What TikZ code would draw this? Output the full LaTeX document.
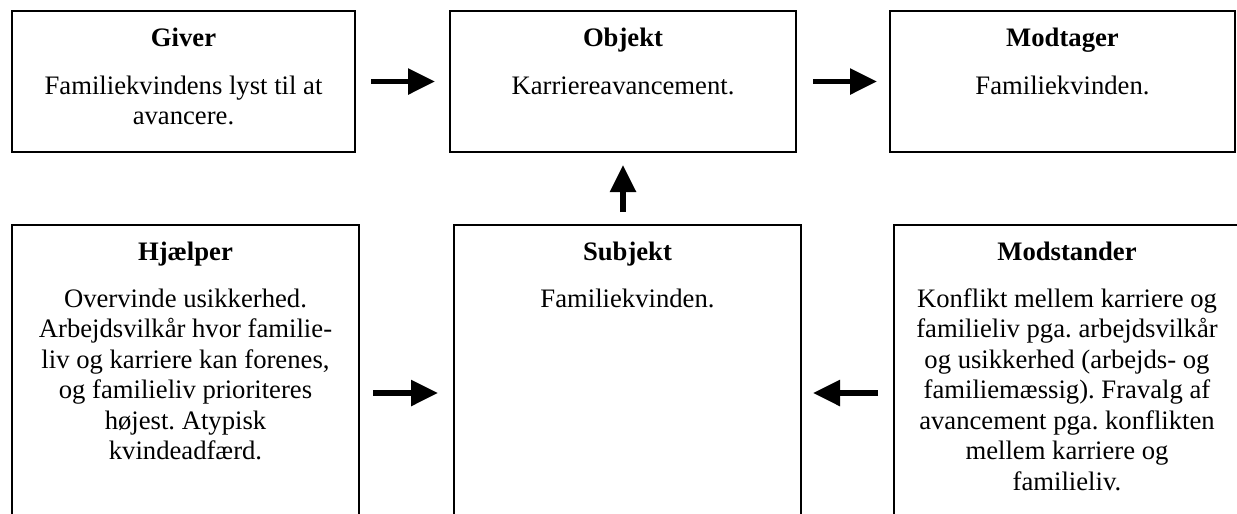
\documentclass[tikz,border=0pt]{standalone}
\usepackage{fontspec}
\setmainfont{Liberation Serif}[Ligatures=CommonOff]
\usetikzlibrary{arrows.meta}
\newcommand\pxu{0.45pt}
\frenchspacing
\begin{document}
\begin{tikzpicture}[x=0.45pt, y=-0.45pt,
  actbox/.style={draw, line width=0.75pt, inner sep=0pt, outer sep=0pt},
  title/.style={anchor=base, inner sep=0pt, font=\fontsize{12}{13.75}\selectfont\bfseries},
  body/.style={anchor=base, inner sep=0pt},
  flow/.style={line width=2.6pt, -{Triangle[length=27*\pxu, width=25*\pxu]}}
]
\useasboundingbox (0,0) rectangle (1237,513);
\clip (0,0) rectangle (1237,513);

% upper row
\node[actbox, minimum width=343*\pxu, minimum height=141*\pxu] (giver) at (183.5,81.5) {};
\node[actbox, minimum width=346*\pxu, minimum height=141*\pxu] (objekt) at (623,81.5) {};
\node[actbox, minimum width=345*\pxu, minimum height=141*\pxu] (modtager) at (1062.5,81.5) {};

% lower row (continues below the page edge)
\node[actbox, minimum width=347*\pxu, minimum height=336*\pxu] (hjaelper) at (185.5,393) {};
\node[actbox, minimum width=347*\pxu, minimum height=336*\pxu] (subjekt) at (627.5,393) {};
\node[actbox, minimum width=346*\pxu, minimum height=336*\pxu] (modstander) at (1067,393) {};

% box texts
\newcommand\bodytext[2]{\parbox[t]{#1}{\fontsize{12}{13.75}\selectfont\centering\hyphenpenalty=10000 #2}}

\node[title] (giver-t) at ([yshift=-35*\pxu]giver.north) {Giver};
\node[body] (giver-b) at ([yshift=-83*\pxu]giver.north) {\bodytext{150pt}{Familiekvindens lyst til at\\avancere.}};

\node[title] (objekt-t) at ([yshift=-35*\pxu]objekt.north) {Objekt};
\node[body] (objekt-b) at ([yshift=-83*\pxu]objekt.north) {\bodytext{150pt}{Karriereavancement.}};

\node[title] (modtager-t) at ([yshift=-35*\pxu]modtager.north) {Modtager};
\node[body] (modtager-b) at ([yshift=-83*\pxu]modtager.north) {\bodytext{150pt}{Familiekvinden.}};

\node[title] (hjaelper-t) at ([yshift=-35*\pxu]hjaelper.north) {Hjælper};
\node[body] (hjaelper-b) at ([yshift=-82*\pxu]hjaelper.north) {\bodytext{150pt}{Overvinde usikkerhed.\\Arbejdsvilkår hvor familie-\\liv og karriere kan forenes,\\og familieliv prioriteres\\højest. Atypisk\\kvindeadfærd.}};

\node[title] (subjekt-t) at ([yshift=-35*\pxu]subjekt.north) {Subjekt};
\node[body] (subjekt-b) at ([yshift=-82*\pxu]subjekt.north) {\bodytext{150pt}{Familiekvinden.}};

\node[title] (modstander-t) at ([yshift=-35*\pxu]modstander.north) {Modstander};
\node[body] (modstander-b) at ([yshift=-82*\pxu]modstander.north) {\bodytext{150pt}{Konflikt mellem karriere og\\familieliv pga. arbejdsvilkår\\og usikkerhed (arbejds- og\\familiemæssig). Fravalg af\\avancement pga. konflikten\\mellem karriere og\\familieliv.}};

% connectors
\draw[flow, shorten <=16*\pxu, shorten >=15*\pxu] (giver.east) -- (objekt.west);
\draw[flow, shorten <=17*\pxu, shorten >=13*\pxu] (objekt.east) -- (modtager.west);
\draw[flow, shorten <=13*\pxu, shorten >=13*\pxu] (objekt.south |- subjekt.north) -- (objekt.south);
\draw[flow, shorten <=14*\pxu, shorten >=16*\pxu] (hjaelper.east) -- (subjekt.west);
\draw[flow, shorten <=16*\pxu, shorten >=12*\pxu] (modstander.west) -- (subjekt.east);
\end{tikzpicture}
\end{document}
